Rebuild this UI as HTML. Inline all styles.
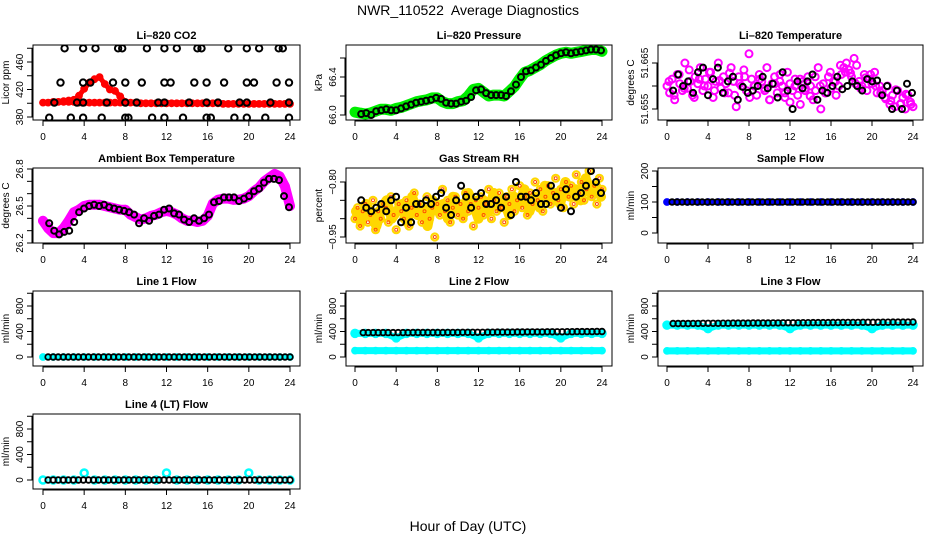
<!DOCTYPE html>
<html><head><meta charset="utf-8"><style>
html,body{margin:0;padding:0;background:#fff;}
svg{display:block;font-family:"Liberation Sans",sans-serif;}
</style></head><body>
<svg id="chart" width="936" height="540" viewBox="0 0 936 540">
<text x="468" y="15" text-anchor="middle" font-size="14">NWR_110522&#160; Average Diagnostics</text>
<text x="468" y="531" text-anchor="middle" font-size="14">Hour of Day (UTC)</text>
</svg>
<script>
// ---------- data ----------
const hourTicks = [0,4,8,12,16,20,24];
const co2Flat = [401,401,402,402,403,402,402,401,401,401,401,401,401,401,401,401,401,401,401,400,400,400,400,400,400,400,400,400,400,400,400,400,400,400,400,399,399,399,399,399,399,399,399,399,399,399,399,399,399];
const co2HumpHours = [2,2.5,3,3.5,4,4.5,5,5.5,6,6.5,7,7.5,8];
const co2HumpValues = [402,404,405,411,421,430,435,438,428,420,418,410,402];
const co2BlackHours = [2.1,3.9,5.1,7.3,7.7,10.1,11.8,13,15,15.4,18,19.8,21,22.9,23.3,1.7,3.9,4.6,6.8,8,9.6,11.8,12.4,14.7,15.9,17.6,19.8,20.5,22.7,23.9,1.1,3.3,3.9,6.2,8,9.1,11.2,11.8,14.2,15.9,17,19.1,19.8,22.1,23.9,0.6,2.7,3.9,5.7,8,8.3,10.6,11.8,13.6,15.9,16.3,18.6,19.8,21.6,23.9];
const co2BlackValues = [480,480,480,480,480,480,480,480,480,480,480,480,480,480,480,430,430,430,430,430,430,430,430,430,430,430,430,430,430,430,401,401,401,401,401,401,401,401,401,401,401,401,401,401,401,379,379,379,379,379,379,379,379,379,379,379,379,379,379,379];

const pressGreen = [66.03,66.02,66.01,66.02,66.04,66.06,66.06,66.05,66.07,66.08,66.10,66.12,66.14,66.15,66.16,66.18,66.18,66.14,66.12,66.12,66.14,66.15,66.20,66.27,66.28,66.24,66.20,66.21,66.21,66.20,66.25,66.30,66.38,66.45,66.47,66.50,66.53,66.57,66.60,66.63,66.65,66.66,66.65,66.66,66.67,66.68,66.69,66.69,66.67];
const pressBlack = [66.01,66.02,66.00,66.04,66.05,66.06,66.05,66.05,66.07,66.09,66.11,66.13,66.14,66.15,66.16,66.18,66.17,66.13,66.12,66.12,66.14,66.15,66.19,66.26,66.27,66.23,66.21,66.21,66.21,66.20,66.25,66.32,66.40,66.46,66.47,66.50,66.53,66.57,66.60,66.63,66.65,66.66,66.65,66.66,66.67,66.68,66.69,66.69,66.68];

const tempMagenta = [51.6600,51.6585,51.6615,51.6570,51.6625,51.6605,51.6590,51.6650,51.6595,51.6610,51.6580,51.6620,51.6605,51.6640,51.6590,51.6615,51.6600,51.6630,51.6575,51.6610,51.6650,51.6595,51.6620,51.6605,51.6585,51.6640,51.6610,51.6555,51.6620,51.6600,51.6635,51.6590,51.6670,51.6615,51.6600,51.6580,51.6625,51.6610,51.6595,51.6640,51.6570,51.6605,51.6620,51.6585,51.6610,51.6600,51.6575,51.6630,51.6605,51.6590,51.6615,51.6580,51.6560,51.6610,51.6595,51.6620,51.6600,51.6570,51.6590,51.6640,51.6550,51.6605,51.6585,51.6620,51.6595,51.6610,51.6580,51.6600,51.6625,51.6640,51.6650,51.6635,51.6620,51.6660,51.6645,51.6610,51.6600,51.6625,51.6590,51.6615,51.6605,51.6630,51.6585,51.6600,51.6590,51.6575,51.6600,51.6560,51.6580,51.6555,51.6590,51.6560,51.6575,51.6550,51.6580,51.6565,51.6555];
const tempMagentaB = [51.6610,51.6580,51.6625,51.6595,51.6635,51.6575,51.6615,51.6600,51.6630,51.6590,51.6612,51.6585,51.6628,51.6580,51.6605,51.6620,51.6575,51.6600,51.6615,51.6590,51.6570,51.6605,51.6625,51.6585,51.6565,51.6600,51.6615,51.6590,51.6578,51.6620,51.6600,51.6585,51.6630,51.6610,51.6645,51.6630,51.6628,51.6605,51.6595,51.6618,51.6625,51.6600,51.6585,51.6572,51.6568,51.6592,51.6562,51.6582,51.6560];
const tempBlack = [51.6590,51.6625,51.6600,51.6610,51.6585,51.6630,51.6640,51.6580,51.6615,51.6640,51.6585,51.6610,51.6620,51.6570,51.6598,51.6585,51.6590,51.6600,51.6620,51.6595,51.6605,51.6575,51.6630,51.6590,51.6550,51.6610,51.6595,51.6610,51.6625,51.6570,51.6590,51.6585,51.6600,51.6620,51.6593,51.6600,51.6610,51.6600,51.6590,51.6615,51.6610,51.6612,51.6580,51.6600,51.6550,51.6590,51.6550,51.6605,51.6585];

const boxMagenta = [26.38,26.32,26.28,26.28,26.32,26.38,26.45,26.47,26.50,26.51,26.51,26.51,26.50,26.49,26.48,26.47,26.47,26.43,26.41,26.39,26.40,26.42,26.43,26.45,26.46,26.45,26.43,26.40,26.38,26.38,26.37,26.38,26.42,26.52,26.55,26.56,26.56,26.55,26.55,26.56,26.58,26.62,26.65,26.70,26.73,26.76,26.74,26.66,26.50];
const boxBlack = [26.36,26.30,26.27,26.29,26.30,26.37,26.45,26.48,26.50,26.51,26.50,26.51,26.49,26.48,26.47,26.46,26.45,26.43,26.36,26.40,26.38,26.42,26.43,26.47,26.48,26.44,26.43,26.39,26.37,26.40,26.38,26.40,26.43,26.53,26.54,26.57,26.57,26.57,26.54,26.56,26.58,26.62,26.64,26.69,26.72,26.72,26.71,26.58,26.49];

const rhOrange = [-0.90,-0.87,-0.92,-0.88,-0.86,-0.91,-0.89,-0.85,-0.93,-0.88,-0.90,-0.86,-0.87,-0.91,-0.84,-0.89,-0.93,-0.86,-0.88,-0.90,-0.85,-0.92,-0.87,-0.83,-0.89,-0.86,-0.91,-0.88,-0.84,-0.90,-0.87,-0.95,-0.86,-0.89,-0.82,-0.88,-0.85,-0.91,-0.87,-0.84,-0.89,-0.86,-0.90,-0.83,-0.88,-0.86,-0.92,-0.85,-0.87,-0.84,-0.89,-0.86,-0.82,-0.90,-0.85,-0.88,-0.83,-0.87,-0.91,-0.84,-0.86,-0.82,-0.88,-0.85,-0.81,-0.87,-0.84,-0.89,-0.83,-0.86,-0.80,-0.85,-0.82,-0.88,-0.84,-0.81,-0.86,-0.83,-0.79,-0.85,-0.82,-0.87,-0.80,-0.84,-0.81,-0.86,-0.78,-0.83,-0.80,-0.85,-0.82,-0.77,-0.84,-0.81,-0.86,-0.79,-0.82];
const rhOrangeB = [-0.88,-0.91,-0.86,-0.89,-0.92,-0.87,-0.85,-0.90,-0.88,-0.86,-0.91,-0.84,-0.89,-0.87,-0.92,-0.85,-0.88,-0.86,-0.90,-0.84,-0.87,-0.89,-0.83,-0.86,-0.90,-0.85,-0.88,-0.83,-0.87,-0.85,-0.89,-0.84,-0.86,-0.82,-0.88,-0.84,-0.87,-0.81,-0.85,-0.83,-0.86,-0.80,-0.84,-0.82,-0.85,-0.79,-0.83,-0.81,-0.84];
const rhBlack = [-0.85,-0.87,-0.88,-0.87,-0.86,-0.88,-0.85,-0.84,-0.91,-0.87,-0.91,-0.86,-0.86,-0.85,-0.86,-0.84,-0.83,-0.87,-0.89,-0.85,-0.81,-0.84,-0.87,-0.84,-0.83,-0.86,-0.86,-0.85,-0.87,-0.84,-0.89,-0.80,-0.84,-0.84,-0.85,-0.83,-0.86,-0.86,-0.81,-0.84,-0.87,-0.82,-0.88,-0.84,-0.83,-0.81,-0.77,-0.80,-0.83];

const sampleBlue = [100,100,100,100,100,100,100,100,100,100,100,100,100,100,100,100,100,100,100,100,100,100,100,100,100];
const sampleBlack = [100,100,100,100,100,100,100,100,100,100,100,100,100,100,100,100,100,100,100,100,100,100,100,100,100,100,100,100,100,100,100,100,100,100,100,100,100,100,100,100,100,100,100,100,100,100,100,100,100];

const line1Cyan = [0,0,0,0,0,0,0,0,0,0,0,0,0,0,0,0,0,0,0,0,0,0,0,0,0];
const line1Black = [0,0,0,0,0,0,0,0,0,0,0,0,0,0,0,0,0,0,0,0,0,0,0,0,0,0,0,0,0,0,0,0,0,0,0,0,0,0,0,0,0,0,0,0,0,0,0,0,0];
const line2CyanHigh = [370,370,370,370,300,370,370,370,370,370,370,370,300,370,370,370,370,370,370,370,300,370,370,370,370];
const line2CyanLow = [100,100,100,100,100,100,100,100,100,100,100,100,100,100,100,100,100,100,100,100,100,100,100,100,100];
const line2Black = [382,382,382,382,382,382,383,383,383,383,384,384,384,384,385,385,385,386,386,386,387,387,388,388,388,389,389,390,390,391,391,392,392,393,393,394,394,395,395,396,396,397,397,398,398,399,399,400,400];
const line3CyanHigh = [500,500,500,500,445,500,500,500,500,500,500,500,445,500,500,500,500,500,500,500,445,500,500,500,500];
const line3CyanLow = [96,96,96,96,96,96,96,96,96,96,96,96,96,96,96,96,96,96,96,96,96,96,96,96,96];
const line3Black = [525,525,526,526,527,527,528,528,529,529,530,530,531,531,532,532,533,533,534,534,535,535,536,536,537,537,538,538,539,539,540,540,541,541,542,542,543,543,544,544,545,545,546,546,547,547,548,548,549];
const line4Cyan = [0,0,0,0,110,0,0,0,0,0,0,0,110,0,0,0,0,0,0,0,110,0,0,0,0];
const line4Black = [0,0,0,0,0,0,0,0,0,0,0,0,0,0,0,0,0,0,0,0,0,0,0,0,0,0,0,0,0,0,0,0,0,0,0,0,0,0,0,0,0,0,0,0,0,0,0,0,0];

// ---------- layout ----------
const NS = 'http://www.w3.org/2000/svg';
const svg = document.getElementById('chart');
const cols = [{l:33,r:300,h0:43,h24:290},{l:346,r:612,h0:355,h24:602},{l:658,r:923,h0:667,h24:913}];
const rows = [{t:45,b:120},{t:168,b:243},{t:291,b:366},{t:414,b:489}];

function mk(tag, attrs, parent){
  const e = document.createElementNS(NS, tag);
  for (const k in attrs) e.setAttribute(k, attrs[k]);
  (parent||svg).appendChild(e);
  return e;
}

function makePanel(cfg){
  const c = cols[cfg.col], r = rows[cfg.row];
  const g = mk('g', {});
  
  
  const xs = h => c.h0 + (h/24)*(c.h24 - c.h0);
  const off = r.t;
  const ys = v => off + cfg.p1 + (v - cfg.v1) * (cfg.p2 - cfg.p1) / (cfg.v2 - cfg.v1);
  const clip = mk('clipPath', {id:'clip-'+cfg.name}, g);
  mk('rect', {x:c.l, y:r.t, width:c.r-c.l, height:r.b-r.t}, clip);
  const plot = mk('g', {'clip-path':'url(#clip-'+cfg.name+')'}, g);
  
  
  const api = {xs, ys, plot};
  cfg.draw(api);
  const frame = mk('rect', {x:c.l, y:r.t, width:c.r-c.l, height:r.b-r.t, fill:'none', stroke:'#000', 'stroke-width':1}, g);
  
  
  const tt = mk('text', {x:(c.l+c.r)/2, y:r.t-6, 'text-anchor':'middle', 'font-size':11, 'font-weight':'bold'}, g);
  tt.textContent = cfg.title;
  
  
  const xa = mk('g', {}, g);
  
  
  mk('line', {x1:xs(0), x2:xs(24), y1:r.b+1, y2:r.b+1, stroke:'#000'}, xa);
  hourTicks.forEach(h => {
    mk('line', {x1:xs(h), x2:xs(h), y1:r.b, y2:r.b+6, stroke:'#000'}, xa);
    const t = mk('text', {x:xs(h), y:r.b+20, 'text-anchor':'middle', 'font-size':10}, xa);
    t.textContent = h;
  });
  const ya = mk('g', {}, g);
  
  
  const tv = cfg.yTicks;
  mk('line', {x1:c.l-1, x2:c.l-1, y1:ys(tv[0]), y2:ys(tv[tv.length-1]), stroke:'#000'}, ya);
  tv.forEach(v => {
    mk('line', {x1:c.l-6, x2:c.l, y1:ys(v), y2:ys(v), stroke:'#000'}, ya);
  });
  cfg.yLabels.forEach((lab, i) => {
    const y = ys(cfg.yLabelVals[i]);
    const t = mk('text', {x:c.l-10, y:y, 'text-anchor':'middle', 'font-size':10, transform:'rotate(-90 '+(c.l-10)+' '+y+')'}, ya);
    t.textContent = lab;
  });
  const yt = mk('text', {x:c.l-24, y:(r.t+r.b)/2, 'text-anchor':'middle', 'font-size':10, transform:'rotate(-90 '+(c.l-24)+' '+((r.t+r.b)/2)+')'}, g);
  yt.textContent = cfg.yTitle;
  
  
}

function series(api, vals, color, name, opts){
  opts = opts || {};
  const g = mk('g', {}, api.plot);
  
  
  const h0 = opts.h0 !== undefined ? opts.h0 : 0;
  const h1 = opts.h1 !== undefined ? opts.h1 : 24;
  const hrs = opts.hours || vals.map((v,i) => h0 + i*(h1-h0)/(vals.length-1));
  if (opts.band) {
    const pts = vals.map((v,i) => api.xs(hrs[i]).toFixed(1)+','+api.ys(v).toFixed(1)).join(' ');
    mk('polyline', {points:pts, fill:'none', stroke:color, 'stroke-width':opts.band, 'stroke-linejoin':'round', 'stroke-linecap':'round'}, g);
  }
  vals.forEach((v,i) => {
    mk('circle', {cx:api.xs(hrs[i]).toFixed(1), cy:api.ys(v).toFixed(1), r:opts.r||3, fill:'none', stroke:color, 'stroke-width':opts.sw||1.8}, g);
  });
}

makePanel({name:'co2', title:'Li\u2013820 CO2', col:0, row:0, yTitle:'Licor ppm',
  v1:380, p1:72, v2:460, p2:17, yTicks:[380,400,420,440,460,480], yLabels:['380','420','460'], yLabelVals:[380,420,460],
  draw: a => {
    series(a, co2Flat, '#ff0000', 'co2-red-series', {band:6, r:3});
    series(a, co2HumpValues, '#ff0000', 'co2-red-hump', {hours:co2HumpHours, band:5, r:3});
    series(a, co2BlackValues, '#000', 'co2-black-points', {hours:co2BlackHours, r:3.2, sw:2});
  }});
makePanel({name:'pressure', title:'Li\u2013820 Pressure', col:1, row:0, yTitle:'kPa',
  v1:66.0, p1:70, v2:66.4, p2:32, yTicks:[66.0,66.2,66.4,66.6], yLabels:['66.0','66.4'], yLabelVals:[66.0,66.4],
  draw: a => {
    series(a, pressGreen, '#00ee00', 'pressure-green-series', {band:11, r:4});
    series(a, pressBlack, '#000', 'pressure-black-points', {h0:0.6, h1:23.9, r:3, sw:2});
  }});
makePanel({name:'temperature', title:'Li\u2013820 Temperature', col:2, row:0, yTitle:'degrees C',
  v1:51.655, p1:64, v2:51.665, p2:18, yTicks:[51.655,51.66,51.665], yLabels:['51.655','51.665'], yLabelVals:[51.655,51.665],
  draw: a => {
    series(a, tempMagenta, '#ff00ff', 'temperature-magenta-series', {r:3.5, sw:2});
    series(a, tempMagentaB, '#ff00ff', 'temperature-magenta-series-b', {h0:0.2, h1:23.8, r:3.5, sw:2});
    series(a, tempBlack, '#000', 'temperature-black-points', {h0:0.6, h1:23.9, r:3, sw:2});
  }});
makePanel({name:'box-temp', title:'Ambient Box Temperature', col:0, row:1, yTitle:'degrees C',
  v1:26.2, p1:75, v2:26.8, p2:1, yTicks:[26.2,26.3,26.4,26.5,26.6,26.7,26.8], yLabels:['26.2','26.5','26.8'], yLabelVals:[26.2,26.5,26.8],
  draw: a => {
    series(a, boxMagenta, '#ff00ff', 'box-temp-magenta-series', {band:10, r:4});
    series(a, boxBlack, '#000', 'box-temp-black-points', {h0:0.6, h1:23.9, r:3, sw:2});
  }});
makePanel({name:'rh', title:'Gas Stream RH', col:1, row:1, yTitle:'percent',
  v1:-0.95, p1:69, v2:-0.80, p2:14, yTicks:[-0.95,-0.9,-0.85,-0.8], yLabels:['\u22120.95','\u22120.80'], yLabelVals:[-0.95,-0.8],
  draw: a => {
    series(a, rhOrange, '#ffd700', 'rh-yellow-series', {r:3.5, sw:2.2});
    series(a, rhOrangeB, '#ffd700', 'rh-yellow-series-b', {h0:0.1, h1:23.9, band:10, r:3.5, sw:2.2});
    series(a, rhOrange, '#ff5000', 'rh-orange-series', {r:1.5, sw:1});
    series(a, rhBlack, '#000', 'rh-black-points', {h0:0.6, h1:23.9, r:3, sw:2});
  }});
makePanel({name:'sample-flow', title:'Sample Flow', col:2, row:1, yTitle:'ml/min',
  v1:0, p1:65, v2:200, p2:3, yTicks:[0,50,100,150,200], yLabels:['0','100','200'], yLabelVals:[0,100,200],
  draw: a => {
    series(a, sampleBlue, '#0000ff', 'sample-flow-blue-series', {band:6, r:3});
    series(a, sampleBlack, '#000', 'sample-flow-black-points', {h0:0.5, h1:24, r:2.8, sw:1.8});
  }});
const flowScale = {v1:0, p1:66, v2:800, p2:15, yTicks:[0,200,400,600,800,1000], yLabels:['0','400','800'], yLabelVals:[0,400,800], yTitle:'ml/min'};
makePanel(Object.assign({name:'line1-flow', title:'Line 1 Flow', col:0, row:2, draw: a => {
  series(a, line1Cyan, '#00ffff', 'line1-cyan-series', {band:6, r:3});
  series(a, line1Black, '#000', 'line1-black-points', {h0:0.5, h1:24, r:2.8, sw:1.8});
}}, flowScale));
makePanel(Object.assign({name:'line2-flow', title:'Line 2 Flow', col:1, row:2, draw: a => {
  series(a, line2CyanHigh, '#00ffff', 'line2-cyan-high-series', {r:3.5, sw:2.5});
  series(a, line2CyanHigh, '#00ffff', 'line2-cyan-high-band', {band:7, r:0.1});
  series(a, line2CyanLow, '#00ffff', 'line2-cyan-low-series', {band:7, r:3});
  series(a, line2Black, '#000', 'line2-black-points', {h0:0.8, h1:24, r:2.8, sw:1.8});
}}, flowScale));
makePanel(Object.assign({name:'line3-flow', title:'Line 3 Flow', col:2, row:2, draw: a => {
  series(a, line3CyanHigh, '#00ffff', 'line3-cyan-high-series', {r:3.5, sw:2.5});
  series(a, line3CyanHigh, '#00ffff', 'line3-cyan-high-band', {band:7, r:0.1});
  series(a, line3CyanLow, '#00ffff', 'line3-cyan-low-series', {band:7, r:3});
  series(a, line3Black, '#000', 'line3-black-points', {h0:0.6, h1:24, r:2.8, sw:1.8});
}}, flowScale));
makePanel(Object.assign({name:'line4-flow', title:'Line 4 (LT) Flow', col:0, row:3, draw: a => {
  series(a, line4Cyan, '#00ffff', 'line4-cyan-series', {r:3.5, sw:2.5});
  series(a, line4Black, '#000', 'line4-black-points', {h0:0.5, h1:24, r:2.8, sw:1.8});
}}, flowScale));
</script>
</body></html>
